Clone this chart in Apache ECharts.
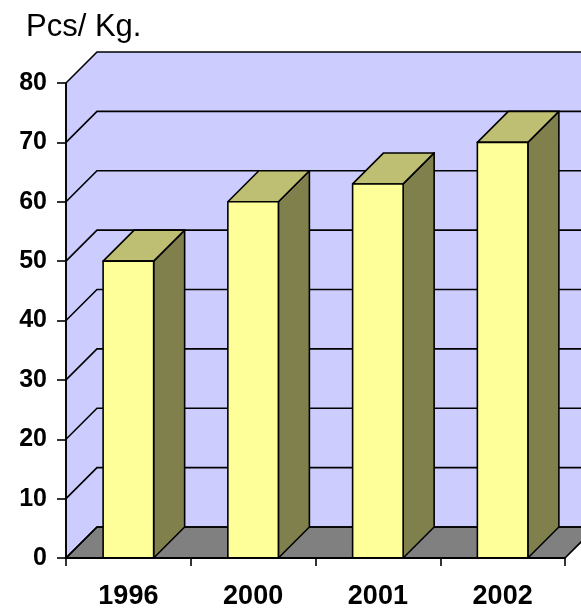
<!DOCTYPE html>
<html><head><meta charset="utf-8">
<script src="https://cdn.jsdelivr.net/npm/echarts@6/dist/echarts.min.js"></script>
<style>html,body{margin:0;padding:0;background:#fff}#c{width:581px;height:610px}</style>
</head><body><div id="c"></div>
<script>
// ---- data ----
const categories = ['1996', '2000', '2001', '2002'];
const values = [50, 60, 63, 70];
const yTicks = [0, 10, 20, 30, 40, 50, 60, 70, 80];
const yUnit = 'Pcs/ Kg.';

// ---- style ----
const DEPTH = 31;
const FONT = '"Liberation Sans", Arial, sans-serif';
const LW = 1.6;
const C = {
  wall: '#CCCCFF', floor: '#808080',
  front: '#FFFF99', top: '#BFBF73', side: '#80804D', line: '#000'
};

const chart = echarts.init(document.getElementById('c'), null, {renderer: 'canvas'});

function wallItem(params, api) {
  const cs = params.coordSys;
  const x0 = cs.x, x1 = cs.x + cs.width;
  const yb = api.coord([0, yTicks[0]])[1];
  const yt = api.coord([0, yTicks[yTicks.length - 1]])[1];
  const d = DEPTH;
  const children = [];
  children.push({type: 'polygon', shape: {points: [[x0 + d, yt - d], [x1 + d, yt - d], [x1 + d, yb - d], [x0 + d, yb - d]]},
    style: {fill: C.wall, stroke: null}});
  children.push({type: 'polygon', shape: {points: [[x0, yb], [x0, yt], [x0 + d, yt - d], [x0 + d, yb - d]]},
    style: {fill: C.wall, stroke: null}});
  children.push({type: 'polygon', shape: {points: [[x0, yb], [x1, yb], [x1 + d, yb - d], [x0 + d, yb - d]]},
    style: {fill: C.floor, stroke: C.line, lineWidth: LW}});
  yTicks.forEach(function (t) {
    const y = api.coord([0, t])[1];
    children.push({type: 'polyline', shape: {points: [[x0, y], [x0 + d, y - d], [x1 + d, y - d]]},
      style: {fill: null, stroke: C.line, lineWidth: LW}});
  });
  children.push({type: 'line', shape: {x1: x0, y1: yb, x2: x0, y2: yt},
    style: {stroke: C.line, lineWidth: LW}});
  return {type: 'group', children: children};
}

function barItem(params, api) {
  const i = api.value(0), v = api.value(1);
  const p = api.coord([i, v]);
  const p0 = api.coord([i, 0]);
  const bw = api.size([1, 0])[0] * 0.405;
  const d = DEPTH;
  const xl = p[0] - bw / 2, xr = p[0] + bw / 2, yt = p[1], yb = p0[1];
  const st = function (f) { return {fill: f, stroke: C.line, lineWidth: LW, lineJoin: 'round'}; };
  return {type: 'group', children: [
    {type: 'polygon', shape: {points: [[xr, yt], [xr + d, yt - d], [xr + d, yb - d], [xr, yb]]}, style: st(C.side)},
    {type: 'polygon', shape: {points: [[xl, yt], [xr, yt], [xr + d, yt - d], [xl + d, yt - d]]}, style: st(C.top)},
    {type: 'rect', shape: {x: xl, y: yt, width: bw, height: yb - yt}, style: st(C.front)}
  ]};
}

chart.setOption({
  backgroundColor: '#fff',
  animation: false,
  title: {
    text: yUnit, left: 21, top: 7,
    textStyle: {fontFamily: FONT, fontSize: 31, fontWeight: 'normal', color: '#000'}
  },
  grid: {left: 66, right: 16, top: 83, bottom: 50, containLabel: false},
  xAxis: {
    type: 'category', data: categories, boundaryGap: true, z: 10,
    axisLine: {show: true, lineStyle: {color: '#000', width: 2}},
    axisTick: {show: true, length: 8, alignWithLabel: false, lineStyle: {color: '#000', width: LW}},
    axisLabel: {fontFamily: FONT, fontSize: 27, fontWeight: 'bold', color: '#000', margin: 25},
    splitLine: {show: false}
  },
  yAxis: {
    type: 'value', min: yTicks[0], max: yTicks[yTicks.length - 1], interval: yTicks[1] - yTicks[0], z: 10,
    axisLine: {show: true, lineStyle: {color: '#000', width: LW}},
    axisTick: {show: true, length: 9, lineStyle: {color: '#000', width: LW}},
    axisLabel: {fontFamily: FONT, fontSize: 25, fontWeight: 'bold', color: '#000', margin: 19},
    splitLine: {show: false}
  },
  series: [
    {type: 'custom', z: 1, renderItem: wallItem, data: [[0, 0]], silent: true, clip: false},
    {type: 'custom', z: 2, renderItem: barItem, data: values.map(function (v, i) { return [i, v]; }), clip: false}
  ]
});
</script>
</body></html>
